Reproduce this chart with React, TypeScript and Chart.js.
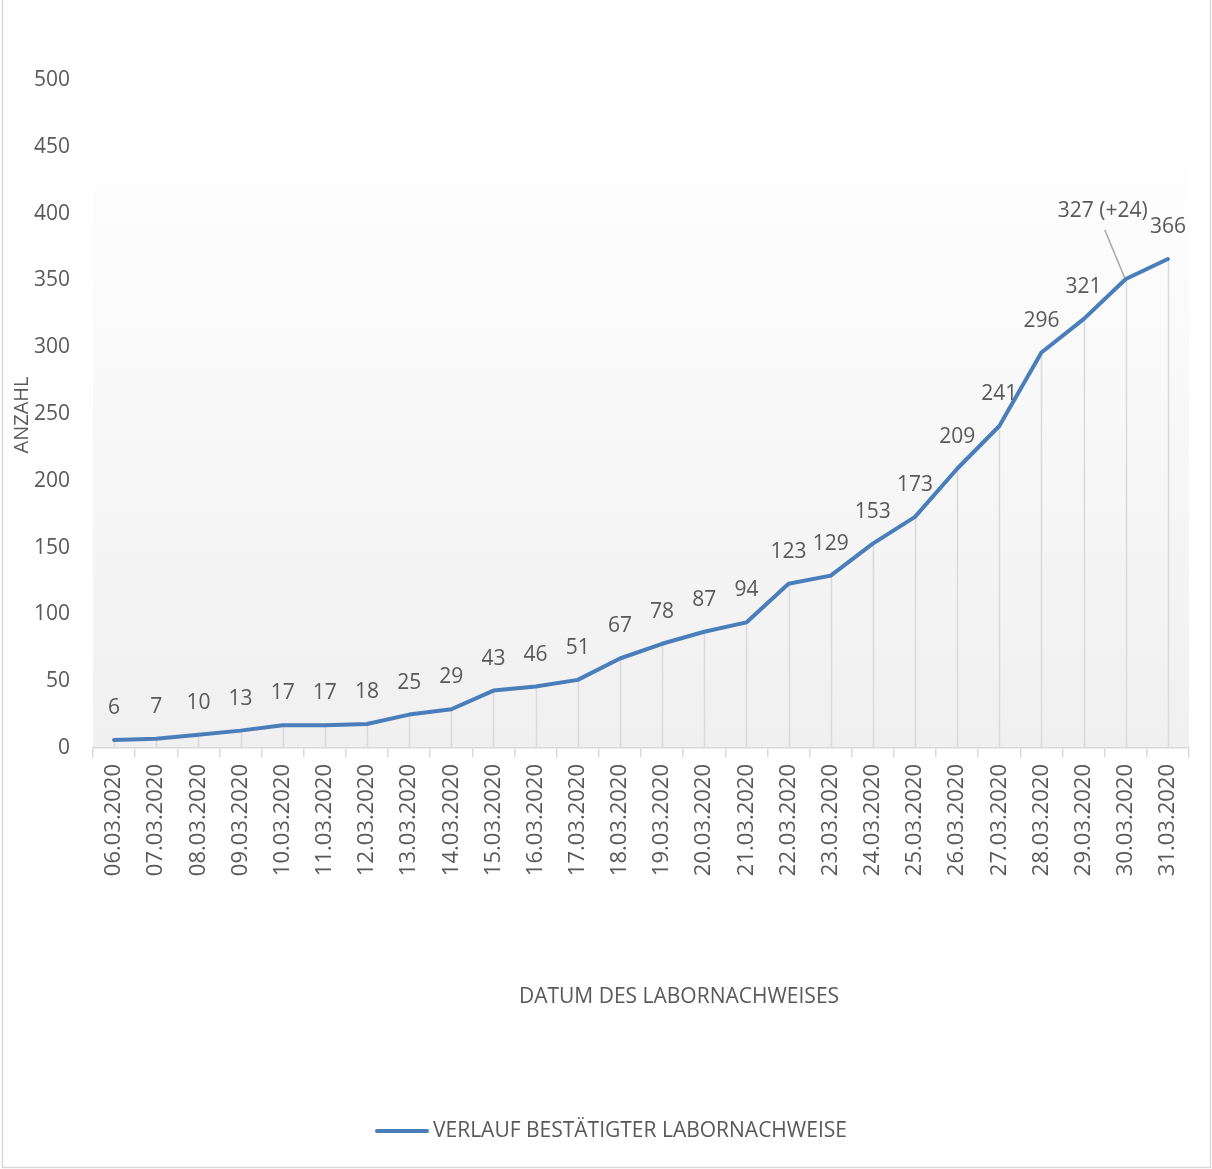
import React, { useEffect, useRef } from 'react';
import { Chart, registerables } from 'chart.js';

Chart.register(...registerables);

const categories = [
  '06.03.2020', '07.03.2020', '08.03.2020', '09.03.2020', '10.03.2020', '11.03.2020',
  '12.03.2020', '13.03.2020', '14.03.2020', '15.03.2020', '16.03.2020', '17.03.2020',
  '18.03.2020', '19.03.2020', '20.03.2020', '21.03.2020', '22.03.2020', '23.03.2020',
  '24.03.2020', '25.03.2020', '26.03.2020', '27.03.2020', '28.03.2020', '29.03.2020',
  '30.03.2020', '31.03.2020',
];
const values = [6, 7, 10, 13, 17, 17, 18, 25, 29, 43, 46, 51, 67, 78, 87, 94, 123, 129, 153, 173, 209, 241, 296, 321, 351, 366];
const pointLabels = [
  '6', '7', '10', '13', '17', '17', '18', '25', '29', '43', '46', '51', '67', '78', '87', '94',
  '123', '129', '153', '173', '209', '241', '296', '321', '327 (+24)', '366',
];
const yMin = 0;
const yMax = 500;
const yStep = 50;
const seriesName = 'VERLAUF BESTÄTIGTER LABORNACHWEISE';
const xTitle = 'DATUM DES LABORNACHWEISES';
const yTitle = 'ANZAHL';

const FONT = '"Open Sans", "Noto Sans", sans-serif';
const TEXT = '#595959';
const LINE = '#4a7ebb';
const GRID = '#d9d9d9';

export default function App() {
  const ref = useRef<HTMLCanvasElement | null>(null);

  useEffect(() => {
    document.body.style.margin = '0';
    const canvas = ref.current;
    if (!canvas) return;

    const decor = {
      id: 'decor',
      beforeDraw(chart: any) {
        const { ctx, chartArea, scales } = chart;
        ctx.save();
        ctx.fillStyle = '#ffffff';
        ctx.fillRect(0, 0, chart.width, chart.height);
        const top = scales.y.getPixelForValue(434);
        const g = ctx.createLinearGradient(0, top, 0, chartArea.bottom);
        g.addColorStop(0, '#fefefe');
        g.addColorStop(1, '#f0f0f0');
        ctx.fillStyle = g;
        ctx.fillRect(chartArea.left, top, chartArea.right - chartArea.left, chartArea.bottom - top);
        ctx.restore();
      },
      beforeDatasetsDraw(chart: any) {
        const { ctx, chartArea } = chart;
        const meta = chart.getDatasetMeta(0);
        ctx.save();
        ctx.strokeStyle = GRID;
        ctx.lineWidth = 1.5;
        meta.data.forEach((pt: any) => {
          ctx.beginPath();
          ctx.moveTo(Math.round(pt.x) + 0.5, pt.y);
          ctx.lineTo(Math.round(pt.x) + 0.5, chartArea.bottom);
          ctx.stroke();
        });
        ctx.restore();
      },
      afterDatasetsDraw(chart: any) {
        const { ctx } = chart;
        const meta = chart.getDatasetMeta(0);
        ctx.save();
        ctx.font = `21px ${FONT}`;
        ctx.fillStyle = TEXT;
        ctx.textAlign = 'center';
        ctx.textBaseline = 'middle';
        meta.data.forEach((pt: any, i: number) => {
          const label = pointLabels[i];
          if (label.length > 4) {
            const lx = pt.x - 23;
            const ly = pt.y - 68;
            ctx.fillText(label, lx, ly);
            ctx.strokeStyle = '#a6a6a6';
            ctx.lineWidth = 1.5;
            ctx.beginPath();
            ctx.moveTo(pt.x - 21, ly + 19);
            ctx.lineTo(pt.x - 1, pt.y - 1);
            ctx.stroke();
          } else {
            ctx.fillText(label, pt.x, pt.y - 32);
          }
        });
        ctx.restore();
      },
      afterDraw(chart: any) {
        const { ctx, chartArea } = chart;
        ctx.save();
        ctx.fillStyle = TEXT;
        ctx.textBaseline = 'middle';
        // y title
        ctx.font = `20px ${FONT}`;
        ctx.save();
        ctx.translate(22, 415);
        ctx.rotate(-Math.PI / 2);
        ctx.textAlign = 'center';
        ctx.fillText(yTitle, 0, 0);
        ctx.restore();
        // x title
        ctx.font = `21px ${FONT}`;
        ctx.textAlign = 'center';
        ctx.fillText(xTitle, (chartArea.left + chartArea.right) / 2 + 38, 997);
        // legend
        ctx.strokeStyle = LINE;
        ctx.lineWidth = 4;
        ctx.lineCap = 'round';
        ctx.beginPath();
        ctx.moveTo(377, 1131);
        ctx.lineTo(427, 1131);
        ctx.stroke();
        ctx.textAlign = 'left';
        ctx.font = `21px ${FONT}`;
        ctx.fillText(seriesName, 433, 1131);
        // outer border
        ctx.strokeStyle = GRID;
        ctx.lineWidth = 1.5;
        ctx.lineCap = 'butt';
        ctx.beginPath();
        ctx.moveTo(2.5, 0);
        ctx.lineTo(2.5, 1167.5);
        ctx.lineTo(1210.5, 1167.5);
        ctx.lineTo(1210.5, 0);
        ctx.stroke();
        ctx.restore();
      },
    };

    const chart = new Chart(canvas, {
      type: 'line',
      data: {
        labels: categories,
        datasets: [
          {
            label: seriesName,
            data: values,
            borderColor: LINE,
            backgroundColor: LINE,
            borderWidth: 4,
            pointRadius: 0,
            tension: 0,
            borderCapStyle: 'round',
            borderJoinStyle: 'round',
          },
        ],
      },
      options: {
        responsive: false,
        animation: false,
        devicePixelRatio: 1,
        layout: { padding: { top: 80, right: 23, left: 0, bottom: 0 } },
        plugins: { legend: { display: false }, tooltip: { enabled: false } },
        scales: {
          x: {
            offset: true,
            afterFit(scale: any) {
              scale.height = 421;
            },
            grid: {
              offset: true,
              drawOnChartArea: false,
              drawTicks: true,
              tickLength: 9,
              color: GRID,
              lineWidth: 1.5,
            },
            border: { display: true, color: GRID, width: 1.5 },
            ticks: {
              autoSkip: false,
              maxRotation: 90,
              minRotation: 90,
              padding: 7,
              color: TEXT,
              font: { family: FONT, size: 22 },
            },
          },
          y: {
            min: yMin,
            max: yMax,
            afterFit(scale: any) {
              scale.width = 93;
            },
            grid: { display: false, drawTicks: false },
            border: { display: false },
            ticks: {
              stepSize: yStep,
              padding: 23,
              color: TEXT,
              font: { family: FONT, size: 21 },
            },
          },
        },
      },
      plugins: [decor],
    });

    return () => chart.destroy();
  }, []);

  return (
    <div style={{ width: 1212, height: 1169 }}>
      <canvas ref={ref} width={1212} height={1169} style={{ display: 'block' }} />
    </div>
  );
}
